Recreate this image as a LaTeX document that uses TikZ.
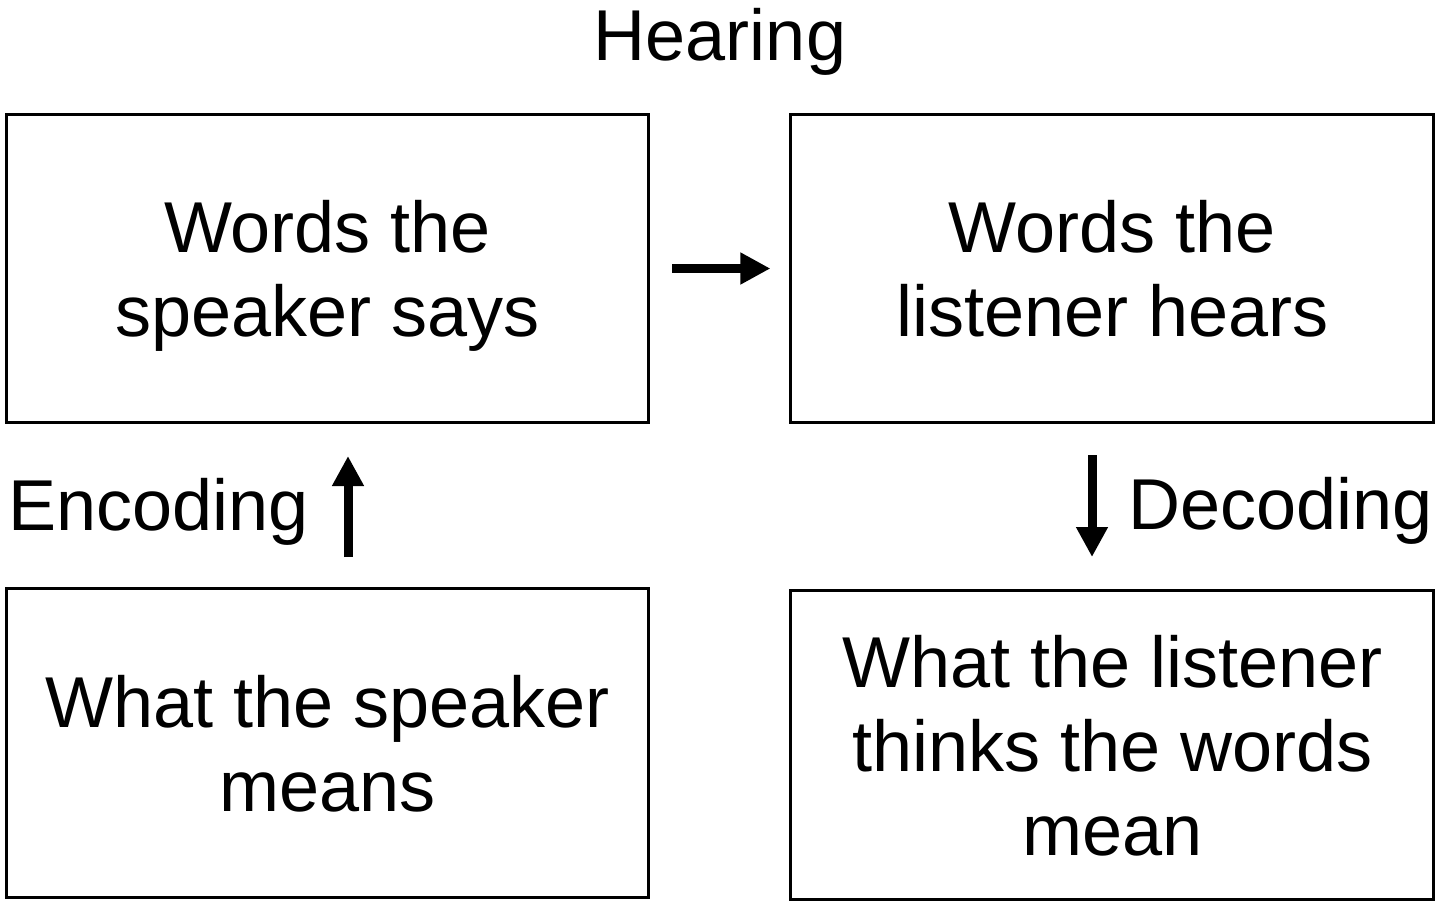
\documentclass[tikz,border=0pt]{standalone}
\usepackage{fontspec}
\setmainfont{Liberation Sans}
\usepackage{tikz}
\usetikzlibrary{
  arrows.meta,
  positioning,
  calc
}

\begin{document}
\begin{tikzpicture}[x=0.02cm, y=-0.02cm,
  stagebox/.style={draw=black, line width=0.06cm, align=center,
                   minimum width=12.86cm, minimum height=6.18cm, text depth=0pt,
                   font=\fontsize{41}{47.6}\selectfont},
  steplabel/.style={font=\fontsize{41}{47.6}\selectfont, inner sep=0pt},
  arr/.style={-{Triangle[length=0.6cm, width=0.6cm]}, line width=0.18cm}
]
\useasboundingbox (0,0) rectangle (1439,906);
\node[stagebox] (s1) at (327.5,268.5) {Words the\\speaker says};
\node[stagebox, right=2.78cm of s1] (s2) {Words the\\listener hears};
\node[stagebox, below=3.26cm of s1] (s3) {What the speaker\\means};
\node[stagebox, below=3.3cm of s2] (s4) {What the listener\\thinks the words\\mean};
\node[steplabel] (hear) at (720,42) {Hearing};
% encoding / decoding arrows
\coordinate (enc-a) at (348,557);
\coordinate (enc-b) at (348,456);
\coordinate (dec-a) at (1092,455);
\coordinate (dec-b) at (1092,557);
\node[steplabel, left=0.78cm of $(enc-a)!0.5!(enc-b)$, yshift=-0.1cm] (enc) {Encoding};
\node[steplabel, right=0.72cm of $(dec-a)!0.5!(dec-b)$, yshift=-0.1cm] (dec) {Decoding};
\draw[arr, shorten <=0.44cm, shorten >=0.38cm] (s1.east) -- (s2.west);
\draw[arr] (enc-a) -- (enc-b);
\draw[arr] (dec-a) -- (dec-b);
\end{tikzpicture}
\end{document}
